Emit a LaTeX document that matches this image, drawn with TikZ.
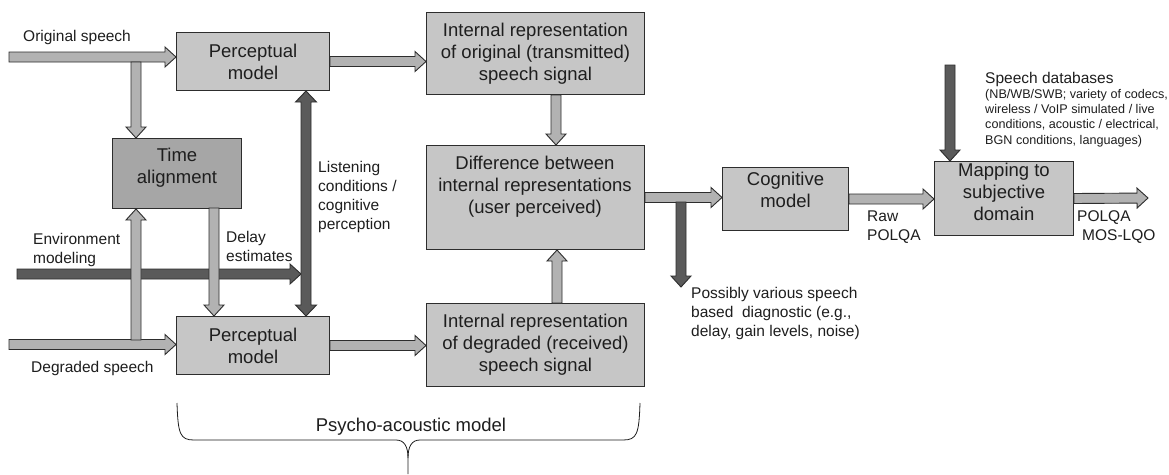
\documentclass[tikz,border=0pt]{standalone}
\usepackage{fontspec}
\setmainfont{Liberation Sans}
\usetikzlibrary{calc}

\definecolor{boxfill}{RGB}{198,198,198}
\definecolor{timefill}{RGB}{166,166,166}
\definecolor{lightarrow}{RGB}{178,178,178}
\definecolor{darkarrow}{RGB}{90,90,90}
\definecolor{edge}{RGB}{45,45,45}
\definecolor{ink}{RGB}{30,30,30}

\newcommand\boxfont{\fontsize{18.5}{22}\selectfont}
\newcommand\labfont{\fontsize{15.5}{19}\selectfont}
\newcommand\smallfont{\fontsize{12.6}{15.3}\selectfont}

% block arrow with a single head, from #2 to #3
\newcommand\blockarrow[3][]{%
  \draw[#1] let \p1=(#2), \p2=(#3),
    \n1={atan2((\y2)-(\y1),(\x2)-(\x1))},
    \n2={veclen((\x2)-(\x1),(\y2)-(\y1))} in
    [shift={(\x1,\y1)}, rotate=\n1]
    (0,5) -- ({\n2-11},5) -- ({\n2-11},10) -- (\n2,0)
    -- ({\n2-11},-10) -- ({\n2-11},-5) -- (0,-5) -- cycle;}

% block arrow with heads at both ends
\newcommand\doublearrow[3][]{%
  \draw[#1] let \p1=(#2), \p2=(#3),
    \n1={atan2((\y2)-(\y1),(\x2)-(\x1))},
    \n2={veclen((\x2)-(\x1),(\y2)-(\y1))} in
    [shift={(\x1,\y1)}, rotate=\n1]
    (0,0) -- (11,10.5) -- (11,5) -- ({\n2-11},5) -- ({\n2-11},10.5) -- (\n2,0)
    -- ({\n2-11},-10.5) -- ({\n2-11},-5) -- (11,-5) -- (11,-10.5) -- cycle;}

\tikzset{
  box/.style={draw=edge, line width=1pt, fill=boxfill, inner sep=0pt,
    anchor=north west, align=center, text=ink, font=\boxfont},
  boxtext/.style={inner sep=0pt, align=center, text=ink, font=\boxfont},
  lab/.style={inner sep=0pt, anchor=west, align=left, text=ink, font=\labfont},
  small/.style={inner sep=0pt, anchor=west, align=left, text=ink, font=\smallfont},
  light/.style={fill=lightarrow, draw=edge, line width=0.9pt, line join=miter},
  dark/.style={fill=darkarrow, draw=edge, line width=0.9pt, line join=miter},
  brace/.style={draw=ink, line width=0.8pt}
}

\begin{document}
\begin{tikzpicture}[x=1pt, y=-1pt]
  \useasboundingbox (0,0) rectangle (1169,474);
  \fill[white] (0,0) rectangle (1169,474);

  % processing blocks
  \node[box, minimum width=153pt, minimum height=58pt] (pm1) at (176,32) {Perceptual\\model};
  \node[box, minimum width=153pt, minimum height=58pt] (pm2) at (176,316) {Perceptual\\model};
  \node[box, fill=timefill, minimum width=129pt, minimum height=70pt] (ta) at (112,138) {Time\\alignment\\[-6pt]};
  \node[box, minimum width=218pt, minimum height=82pt] (iro) at (426,12)
    {Internal representation\\of original (transmitted)\\speech signal};
  \node[box, minimum width=218pt, minimum height=104pt] (diff) at (426,145) {};
  \node[boxtext] (difftext) at (535,187)
    {Difference between\\internal representations\\(user perceived)};
  \node[box, minimum width=218pt, minimum height=83pt] (ird) at (426,303)
    {Internal representation\\of degraded (received)\\speech signal};
  \node[box, minimum width=126pt, minimum height=63pt] (cog) at (722,167) {Cognitive\\model\\[-3pt]};
  \node[box, minimum width=139pt, minimum height=74pt] (map) at (934,161) {Mapping to\\subjective\\domain\\[-8pt]};

  % free ends and branch points of the connectors
  \coordinate (os) at (9,57);
  \coordinate (osb) at (136,62);
  \coordinate (ds) at (9,344.5);
  \coordinate (dsb) at (136,340);
  \coordinate (dly) at (214,208);
  \coordinate (env) at (17,274);
  \coordinate (envend) at (301,274);
  \coordinate (lc) at (306,0);
  \coordinate (dgs) at (681,202);
  \coordinate (dge) at (681,287);
  \coordinate (db) at (950,65);
  \coordinate (out) at (1148,198);

  % connectors
  \blockarrow[light]{os}{pm1.west |- os}
  \blockarrow[light]{osb}{osb |- ta.north}
  \blockarrow[light]{ds}{pm2.west |- ds}
  \blockarrow[dark]{env}{envend}
  \blockarrow[light]{dsb}{dsb |- ta.south}
  \blockarrow[light]{dly}{dly |- pm2.north}
  \doublearrow[dark]{lc |- pm1.south}{lc |- pm2.north}
  \blockarrow[light]{pm1.east}{iro.west |- pm1.east}
  \blockarrow[light]{pm2.east}{ird.west |- pm2.east}
  \blockarrow[light]{[xshift=20.5pt]iro.south}{[xshift=20.5pt]diff.north}
  \blockarrow[light]{[xshift=21.5pt]ird.north}{[xshift=21.5pt]diff.south}
  \blockarrow[light]{diff.east}{cog.west |- diff.east}
  \blockarrow[dark]{dgs}{dge}
  \blockarrow[light]{cog.east}{map.west |- cog.east}
  \blockarrow[dark]{db}{db |- map.north}
  \blockarrow[light]{map.east}{out}

  % labels
  \node[lab] (lorig) at (23,37) {Original speech};
  \node[lab] (ldeg) at (31,368) {Degraded speech};
  \node[lab] (lenv) at (33,250) {Environment\\modeling};
  \node[lab] (ldelay) at (226,246) {Delay\\estimates};
  \node[lab] (llisten) at (318,197) {Listening\\conditions /\\cognitive\\perception};
  \node[lab] (ldiag) at (691,313)
    {Possibly various speech\\based\ \ diagnostic (e.g.,\\delay, gain levels, noise)};
  \node[lab] (lraw) at (867,227) {Raw\\POLQA};
  \node[lab] (lmos) at (1077,227) {POLQA\\\hspace*{5pt}MOS-LQO};
  \node[lab] (ldbt) at (985,79) {Speech databases};
  \node[small] (ldb) at (985,118)
    {(NB/WB/SWB; variety of codecs,\\wireless / VoIP simulated / live\\conditions, acoustic / electrical,\\BGN conditions, languages)};

  % brace under the psycho-acoustic part
  \draw[brace] (177,403) .. controls (178,434) and (180,440) .. (194,440)
    -- (396,440) .. controls (404,440) and (408,446) .. (408,458) -- (408,474);
  \draw[brace] (640,403) .. controls (639,434) and (637,440) .. (623,440)
    -- (420,440) .. controls (412,440) and (408,446) .. (408,458);
  \node[boxtext] (lpsy) at (411,427) {Psycho-acoustic model};
\end{tikzpicture}
\end{document}
